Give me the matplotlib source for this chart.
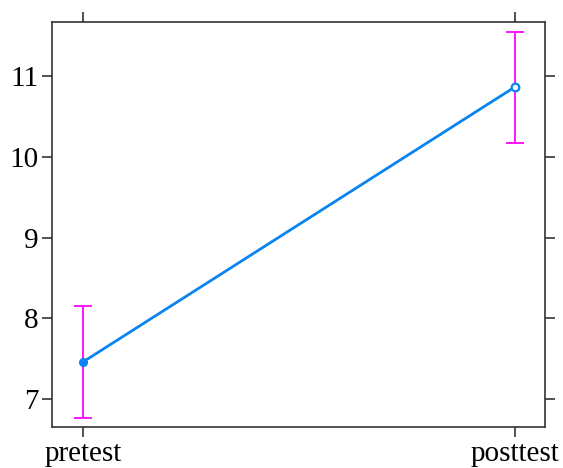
import numpy as np
import matplotlib
matplotlib.use('Agg')
import matplotlib.pyplot as plt

# data
tests = ['pretest', 'posttest']
means = [7.46, 10.87]
lower = [6.765, 10.166]
upper = [8.148, 11.545]

plt.rcParams['font.family'] = ['Liberation Serif', 'DejaVu Serif']

fig = plt.figure(figsize=(5.63, 4.68), dpi=100)
ax = fig.add_axes([0.0924, 0.0876, 0.876, 0.865])

x = np.arange(len(tests))
m = np.array(means)
yerr = [m - np.array(lower), np.array(upper) - m]

ax.errorbar(x, m, yerr=yerr, fmt='none', ecolor='#ff00ff', elinewidth=1.3,
            capsize=6.8, capthick=1.3, zorder=2)
ax.plot(x, m, color='#0a84f0', lw=2.0, zorder=3)
ax.plot(x[0], m[0], 'o', color='#0a84f0', ms=5.5, zorder=4)
ax.plot(x[1], m[1], 'o', mfc='white', mec='#0a84f0', mew=1.6, ms=5.5, zorder=4)

ax.set_xlim(-0.072, 1.069)
ax.set_ylim(6.653, 11.669)
ax.set_xticks(x)
ax.set_xticklabels(tests)
ax.set_yticks([7, 8, 9, 10, 11])

for s in ax.spines.values():
    s.set_color('#333333')
    s.set_linewidth(1.2)
ax.tick_params(direction='out', length=7, width=1.2, color='#333333',
               labelsize=21, top=True, right=True, pad=3)

plt.savefig('out.png', dpi=100)
plt.close()
